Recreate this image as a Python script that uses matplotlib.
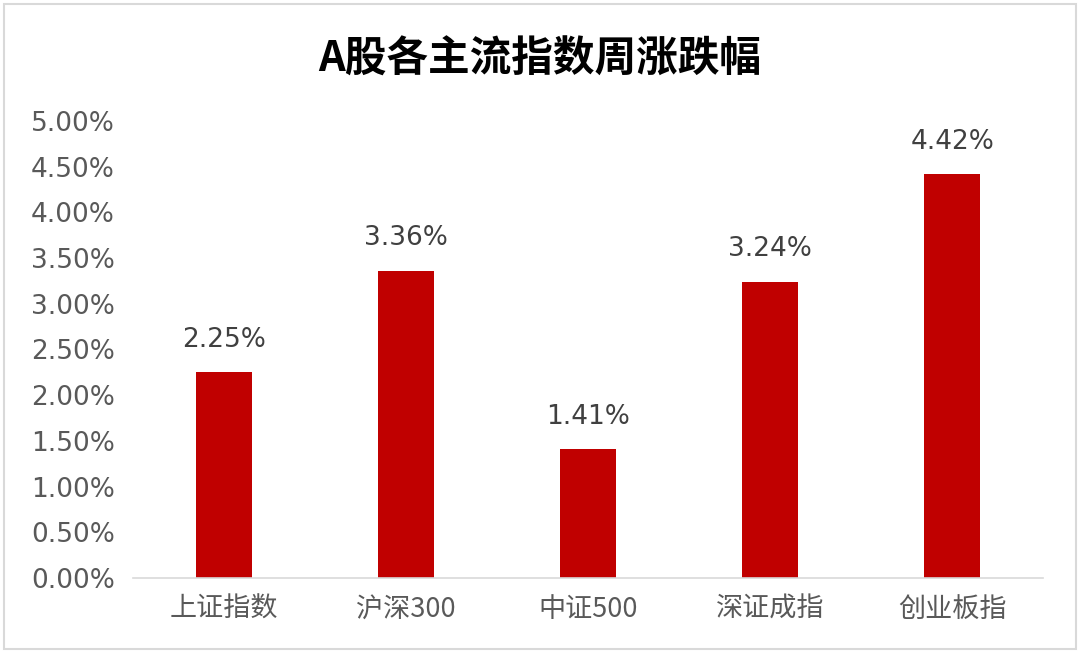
import matplotlib
matplotlib.use("Agg")
import matplotlib.pyplot as plt
from matplotlib.patches import Rectangle

plt.rcParams['font.family'] = ['DejaVu Sans', 'Noto Sans CJK SC']

categories = ['上证指数', '沪深300', '中证500', '深证成指', '创业板指']
values = [2.25, 3.36, 1.41, 3.24, 4.42]
yticks = [0, 0.5, 1.0, 1.5, 2.0, 2.5, 3.0, 3.5, 4.0, 4.5, 5.0]
title = 'A股各主流指数周涨跌幅'

fig = plt.figure(figsize=(10.8, 6.53), dpi=100)
fig.patches.append(Rectangle((0.004, 0.006), 0.992, 0.988, transform=fig.transFigure,
                             fill=False, edgecolor='#d9d9d9', linewidth=1.5))
ax = fig.add_axes([0.123, 0.115, 0.843, 0.6997])
x = list(range(len(categories)))
ax.bar(x, values, width=0.31, color='#c00000')
ax.set_xlim(-0.5, len(categories) - 0.5)
ax.set_ylim(0, 5)
ax.set_yticks(yticks)
ax.set_yticklabels([f'{v:.2f}%' for v in yticks], fontsize=19, color='#595959')
ax.set_xticks(x)
ax.set_xticklabels(categories, fontsize=19.5, color='#595959', family=['Noto Sans CJK SC', 'DejaVu Sans'])
for s in ['top', 'right', 'left']:
    ax.spines[s].set_visible(False)
ax.spines['bottom'].set_color('#d9d9d9')
ax.spines['bottom'].set_linewidth(1.2)
ax.tick_params(axis='both', length=0)
ax.tick_params(axis='y', pad=13)
ax.tick_params(axis='x', pad=13)
for xi, v in zip(x, values):
    ax.annotate(f'{v:.2f}%', (xi, v), xytext=(0, 14), textcoords='offset points',
                ha='center', va='bottom', fontsize=19, color='#404040')
fig.text(0.5, 0.908, title, ha='center', va='center', fontsize=30, fontweight='bold',
         family=['Noto Sans CJK SC', 'DejaVu Sans'], color='black')
fig.savefig('out.png', dpi=100)
